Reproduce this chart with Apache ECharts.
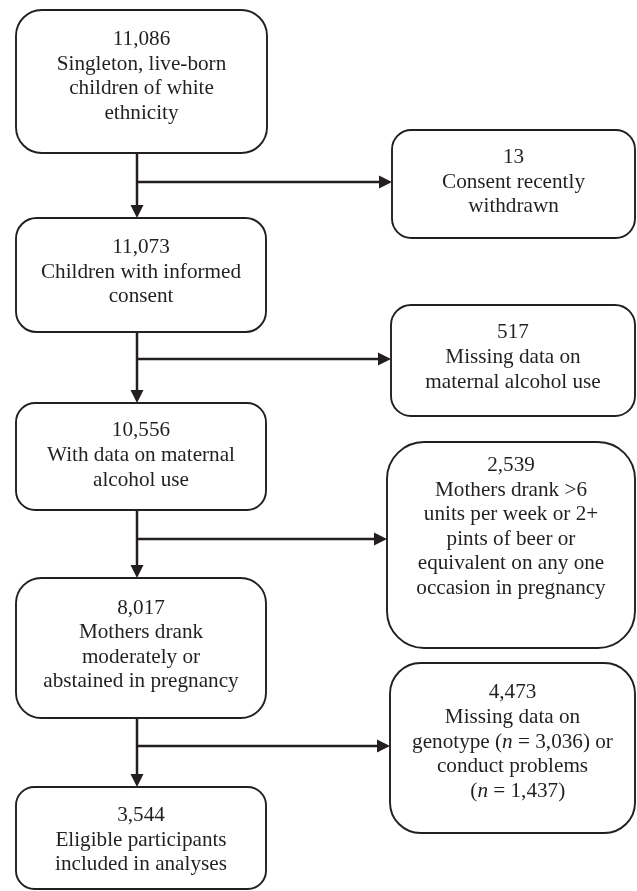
<!DOCTYPE html>
<html><head><meta charset="utf-8">
<script src="https://cdn.jsdelivr.net/npm/echarts@6/dist/echarts.min.js"></script>
<style>html,body{margin:0;padding:0;background:#fff}#c{width:637px;height:891px}</style>
</head><body><div id="c"></div>
<script>
// ---- content ----
const stageCounts = ['11,086', '11,073', '10,556', '8,017', '3,544'];
const stageLabels = [
  'Singleton, live-born\nchildren of white\nethnicity',
  'Children with informed\nconsent',
  'With data on maternal\nalcohol use',
  'Mothers drank\nmoderately or\nabstained in pregnancy',
  'Eligible participants\nincluded in analyses'
];
const exclusionCounts = ['13', '517', '2,539', '4,473'];
const exclusionLabels = [
  'Consent recently\nwithdrawn',
  'Missing data on\nmaternal alcohol use',
  'Mothers drank >6\nunits per week or 2+\npints of beer or\nequivalent on any one\noccasion in pregnancy',
  'Missing data on\ngenotype ({i|n} = 3,036) or\nconduct problems\n  ({i|n} = 1,437)'
];

// ---- layout (diagram coordinates) ----
const stageBoxes = [[16,10,267,153],[16,218,266,332],[16,403,266,510],[16,578,266,718],[16,787,266,889]];
const stageTextShift = [-5,-3,-1,-3,2];
const exclusionBoxes = [[392,130,635,238],[391,305,635,416],[387,442,635,648],[390,663,635,833]];
const exclusionTextShift = [-2,-3,-18,-6];
const spineX = 137;
const branchY = [182, 359, 539, 746];

const INK = '#231f20';
const FONT = '"Liberation Serif", "Times New Roman", serif';
const FS = 21.2;
const LH = 24.6;

const boxData = [];
stageBoxes.forEach((b, i) => boxData.push([b[0], b[1], b[2], b[3], stageTextShift[i]]));
exclusionBoxes.forEach((b, i) => boxData.push([b[0], b[1], b[2], b[3], exclusionTextShift[i]]));
const boxTexts = stageCounts.map((c, i) => c + '\n' + stageLabels[i])
  .concat(exclusionCounts.map((c, i) => c + '\n' + exclusionLabels[i]));

const arrowData = [];
for (let i = 0; i < stageBoxes.length - 1; i++) {
  arrowData.push([spineX, stageBoxes[i][3], spineX, stageBoxes[i + 1][1]]);
}
for (let i = 0; i < exclusionBoxes.length; i++) {
  arrowData.push([spineX, branchY[i], exclusionBoxes[i][0], branchY[i]]);
}

const chart = echarts.init(document.getElementById('c'), null, {renderer: 'canvas'});
chart.setOption({
  animation: false,
  backgroundColor: '#ffffff',
  grid: {left: 0, right: 0, top: 0, bottom: 0},
  xAxis: {type: 'value', min: 0, max: 637, show: false},
  yAxis: {type: 'value', min: 0, max: 891, inverse: true, show: false},
  series: [
    {
      type: 'custom',
      coordinateSystem: 'cartesian2d',
      data: arrowData,
      z: 1,
      renderItem: function (params, api) {
        const p1 = api.coord([api.value(0), api.value(1)]);
        const p2 = api.coord([api.value(2), api.value(3)]);
        const dx = p2[0] - p1[0], dy = p2[1] - p1[1];
        const len = Math.sqrt(dx * dx + dy * dy);
        const ux = dx / len, uy = dy / len;
        const L = 13, H = 6.5;
        const base = [p2[0] - ux * L, p2[1] - uy * L];
        return {
          type: 'group',
          children: [
            {type: 'line', shape: {x1: p1[0], y1: p1[1], x2: base[0] + ux, y2: base[1] + uy},
             style: {stroke: INK, lineWidth: 2.5}},
            {type: 'polygon', shape: {points: [
              [p2[0], p2[1]],
              [base[0] - uy * H, base[1] + ux * H],
              [base[0] + uy * H, base[1] - ux * H]
            ]}, style: {fill: INK}}
          ]
        };
      }
    },
    {
      type: 'custom',
      coordinateSystem: 'cartesian2d',
      data: boxData,
      z: 2,
      renderItem: function (params, api) {
        const a = api.coord([api.value(0), api.value(1)]);
        const b = api.coord([api.value(2), api.value(3)]);
        const w = b[0] - a[0], h = b[1] - a[1];
        const r = 0.18 * Math.min(w, h);
        return {
          type: 'group',
          children: [
            {type: 'rect', shape: {x: a[0], y: a[1], width: w, height: h, r: r},
             style: {fill: '#ffffff', stroke: INK, lineWidth: 1.9}},
            {type: 'text', style: {
              text: boxTexts[params.dataIndex],
              x: a[0] + w / 2,
              y: a[1] + h / 2 + api.value(4),
              align: 'center',
              verticalAlign: 'middle',
              fill: INK,
              fontFamily: FONT,
              fontSize: FS,
              lineHeight: LH,
              rich: {
                i: {fontStyle: 'italic', fontFamily: FONT, fontSize: FS, lineHeight: LH, fill: INK}
              }
            }}
          ]
        };
      }
    }
  ]
});
</script>
</body></html>
